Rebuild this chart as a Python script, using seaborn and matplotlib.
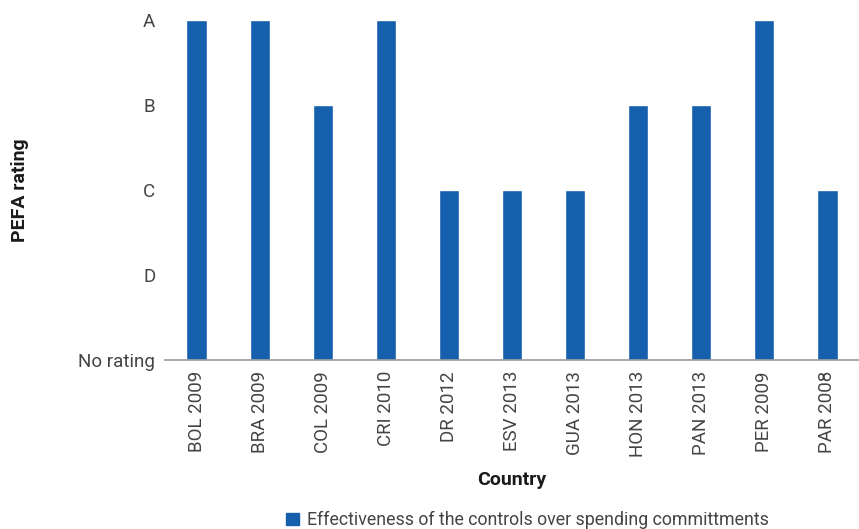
import matplotlib
matplotlib.use("Agg")
import matplotlib.pyplot as plt
import seaborn as sns
import pandas as pd

countries = ["BOL 2009", "BRA 2009", "COL 2009", "CRI 2010", "DR 2012", "ESV 2013",
             "GUA 2013", "HON 2013", "PAN 2013", "PER 2009", "PAR 2008"]
ratings = [4, 4, 3, 4, 2, 2, 2, 3, 3, 4, 2]
rating_labels = ["No rating", "D", "C", "B", "A"]
series_name = "Effectiveness of the controls over spending committments"

sns.set_theme(style="white")
plt.rcParams["font.family"] = ["Roboto", "DejaVu Sans"]

df = pd.DataFrame({"Country": countries, "Rating": ratings, "Series": series_name})

W, H = 859, 529
x0, ybase, ytop = 165, 360, 20
fig = plt.figure(figsize=(W / 100, H / 100), dpi=100)
ax = fig.add_axes([x0 / W, 1 - ybase / H, 1 - x0 / W, (ybase - ytop) / H])

bar_color = "#155FAD"
text_color = "#444444"
title_color = "#1a1a1a"

sns.barplot(data=df, x="Country", y="Rating", hue="Series", palette=[bar_color],
            width=0.32, saturation=1, ax=ax, legend=False)

ax.set_ylim(0, 4)
ax.set_xlim(-0.5, len(countries) - 0.5)
ax.set_yticks(range(len(rating_labels)))
ax.set_yticklabels(rating_labels)
ax.tick_params(axis="y", length=0, pad=7, labelsize=13.5, labelcolor=text_color)
ax.tick_params(axis="x", length=0, pad=8, labelsize=13.5, labelcolor=text_color, rotation=90)

# short tick marking the baseline next to "No rating"
t0 = ax.yaxis.get_major_ticks()[0]
t0.tick1line.set_markersize(9)
t0.tick1line.set_markeredgewidth(1.2)
t0.tick1line.set_color("#999999")

for s in ["top", "right", "left"]:
    ax.spines[s].set_visible(False)
ax.spines["bottom"].set_color("#999999")
ax.spines["bottom"].set_linewidth(1.2)

ax.set_ylabel("PEFA rating", fontsize=14, fontweight="bold", color=title_color)
ax.yaxis.label.set_va("center")
ax.yaxis.set_label_coords((20 - x0) / (W - x0), 0.5)
ax.set_xlabel("Country", fontsize=14, fontweight="bold", color=title_color)
ax.xaxis.label.set_va("center")
ax.xaxis.set_label_coords(0.5, (ybase - 480) / (ybase - ytop))

handle = plt.Rectangle((0, 0), 1, 1, color=bar_color)
fig.legend([handle], [series_name], loc="center left",
           bbox_to_anchor=(279 / W, 1 - 520 / H), borderaxespad=0,
           frameon=False, handlelength=0.7, handleheight=0.7,
           handletextpad=0.45, labelcolor=text_color,
           prop={"size": 12.8})

fig.savefig("out.png", dpi=100)
